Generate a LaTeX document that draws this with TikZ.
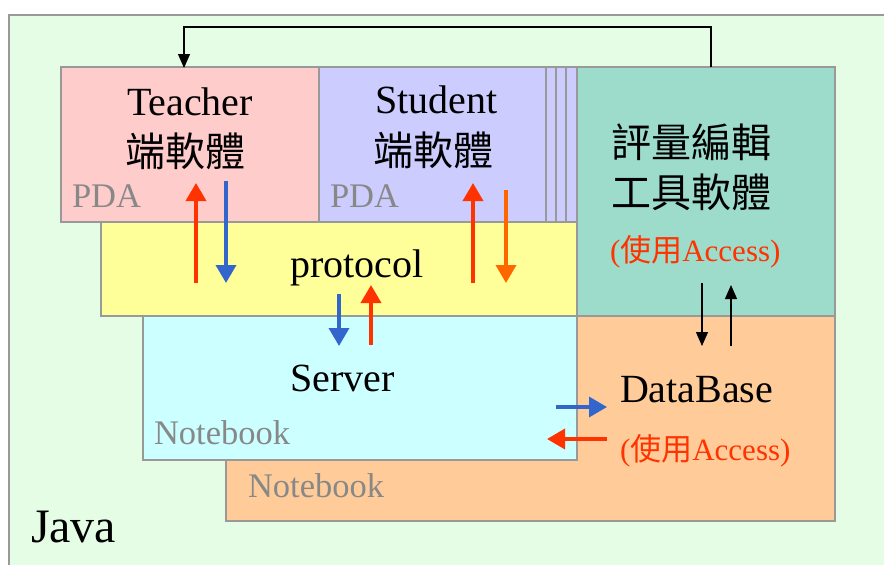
\documentclass[tikz,border=0pt]{standalone}
\usepackage{fontspec}
\setmainfont{Liberation Serif}
\newfontfamily\cjk{Noto Sans CJK TC}
\usetikzlibrary{arrows.meta}

\definecolor{bggreen}{HTML}{E4FDE4}
\definecolor{pdapink}{HTML}{FFCCCC}
\definecolor{pdalav}{HTML}{CCCCFF}
\definecolor{toolteal}{HTML}{9DDBCB}
\definecolor{protoyellow}{HTML}{FFFF99}
\definecolor{servcyan}{HTML}{CCFFFF}
\definecolor{dborange}{HTML}{FFCC99}
\definecolor{framegray}{HTML}{999999}
\definecolor{labgray}{HTML}{888888}
\definecolor{flowred}{HTML}{FF3300}
\definecolor{flowblue}{HTML}{3366CC}
\definecolor{floworange}{HTML}{FF6600}

\tikzset{
  panel/.style={draw=framegray, line width=1.2pt},
  big/.style={inner sep=0pt, outer sep=0pt, font=\fontsize{40}{44}\selectfont},
  bigcjk/.style={inner sep=0pt, outer sep=0pt, font=\cjk\fontsize{40}{44}\selectfont},
  hw/.style={inner sep=0pt, outer sep=0pt, text=labgray, font=\fontsize{34.5}{38}\selectfont},
  note/.style={inner sep=0pt, outer sep=0pt, text=flowred, font=\fontsize{31}{34}\selectfont},
  thinflow/.style={draw=black, line width=1.2pt, -{Triangle[width=12pt,length=14pt]}},
  thickflow/.style={line width=3.6pt, -{Triangle[width=20pt,length=18pt]}},
}
\newcommand{\zh}[1]{{\cjk #1}}

\begin{document}
\begin{tikzpicture}[x=1pt,y=-1pt]
\useasboundingbox (0,0) rectangle (884,565);
\fill[white] (0,0) rectangle (884,565);
% Java platform background
\fill[bggreen] (9,15) rectangle (884,565);
\draw[framegray, line width=1.2pt] (9,565) -- (9,15) -- (884,15);

% hardware / software panels
\draw[panel, fill=dborange] (226,316) rectangle (835,521);
\draw[panel, fill=servcyan] (143,316) rectangle (577,460);
\draw[panel, fill=protoyellow] (101,222) rectangle (577,316);
\draw[panel, fill=pdapink] (61,67) rectangle (319,222);
\draw[panel, fill=pdalav] (319,67) rectangle (577,222);
\draw[panel] (546,67) -- (546,222);
\draw[panel] (556,67) -- (556,222);
\draw[panel] (566,67) -- (566,222);
\draw[panel, fill=toolteal] (577,67) rectangle (835,316);

% labels
\node[big, anchor=base west] (teacher) at (127,115) {Teacher};
\node[bigcjk, anchor=base west] (teacherzh) at (125,166) {端軟體};
\node[hw, anchor=base west] (pda1) at (72,207) {PDA};
\node[big, anchor=base west] (student) at (375,113) {Student};
\node[bigcjk, anchor=base west] (studentzh) at (373,165) {端軟體};
\node[hw, anchor=base west] (pda2) at (330,207) {PDA};
\node[bigcjk, anchor=base west] (tool1) at (611,157) {評量編輯};
\node[bigcjk, anchor=base west] (tool2) at (611,207) {工具軟體};
\node[note, anchor=base west] (access1) at (610,261) {(\zh{使用}Access)};
\node[big, anchor=base west] (protocol) at (290,277) {protocol};
\node[big, anchor=base west] (server) at (290,391) {Server};
\node[hw, anchor=base west] (nb1) at (154,444) {Notebook};
\node[hw, anchor=base west] (nb2) at (248,497) {Notebook};
\node[big, anchor=base west] (database) at (620,402) {DataBase};
\node[note, anchor=base west] (access2) at (620,460) {(\zh{使用}Access)};
\node[inner sep=0pt, outer sep=0pt, anchor=base west, font=\fontsize{48}{52}\selectfont] (java) at (31,542) {Java};

% connector end points
\coordinate (toolTop) at (711,67);
\coordinate (teacherTop) at (184,68);
\coordinate (loopY) at (0,27);

\coordinate (tUpS) at (196,283);  \coordinate (tUpE) at (196,183);
\coordinate (tDnS) at (226,181);  \coordinate (tDnE) at (226,283);
\coordinate (sUpS) at (473,283);  \coordinate (sUpE) at (473,183);
\coordinate (sDnS) at (506,190);  \coordinate (sDnE) at (506,283);
\coordinate (vDnS) at (339,294);  \coordinate (vDnE) at (339,346);
\coordinate (vUpS) at (371,345);  \coordinate (vUpE) at (371,285);
\coordinate (dDnS) at (702,283);  \coordinate (dDnE) at (702,346);
\coordinate (dUpS) at (731,346);  \coordinate (dUpE) at (731,285);
\coordinate (dbInS) at (556,407); \coordinate (dbInE) at (607,407);
\coordinate (dbOutS) at (607,439); \coordinate (dbOutE) at (547,439);

% tool -> teacher loop
\draw[thinflow] (toolTop) -- (toolTop |- loopY) -- (teacherTop |- loopY) -- (teacherTop);

% PDA <-> protocol
\draw[thickflow, draw=flowred, fill=flowred] (tUpS) -- (tUpE);
\draw[thickflow, draw=flowblue, fill=flowblue] (tDnS) -- (tDnE);
\draw[thickflow, draw=flowred, fill=flowred] (sUpS) -- (sUpE);
\draw[thickflow, draw=floworange, fill=floworange] (sDnS) -- (sDnE);

% protocol <-> server
\draw[thickflow, draw=flowblue, fill=flowblue] (vDnS) -- (vDnE);
\draw[thickflow, draw=flowred, fill=flowred] (vUpS) -- (vUpE);

% tool <-> database
\draw[thinflow] (dDnS) -- (dDnE);
\draw[thinflow] (dUpS) -- (dUpE);

% server <-> database
\draw[thickflow, draw=flowblue, fill=flowblue] (dbInS) -- (dbInE);
\draw[thickflow, draw=flowred, fill=flowred] (dbOutS) -- (dbOutE);
\end{tikzpicture}
\end{document}
